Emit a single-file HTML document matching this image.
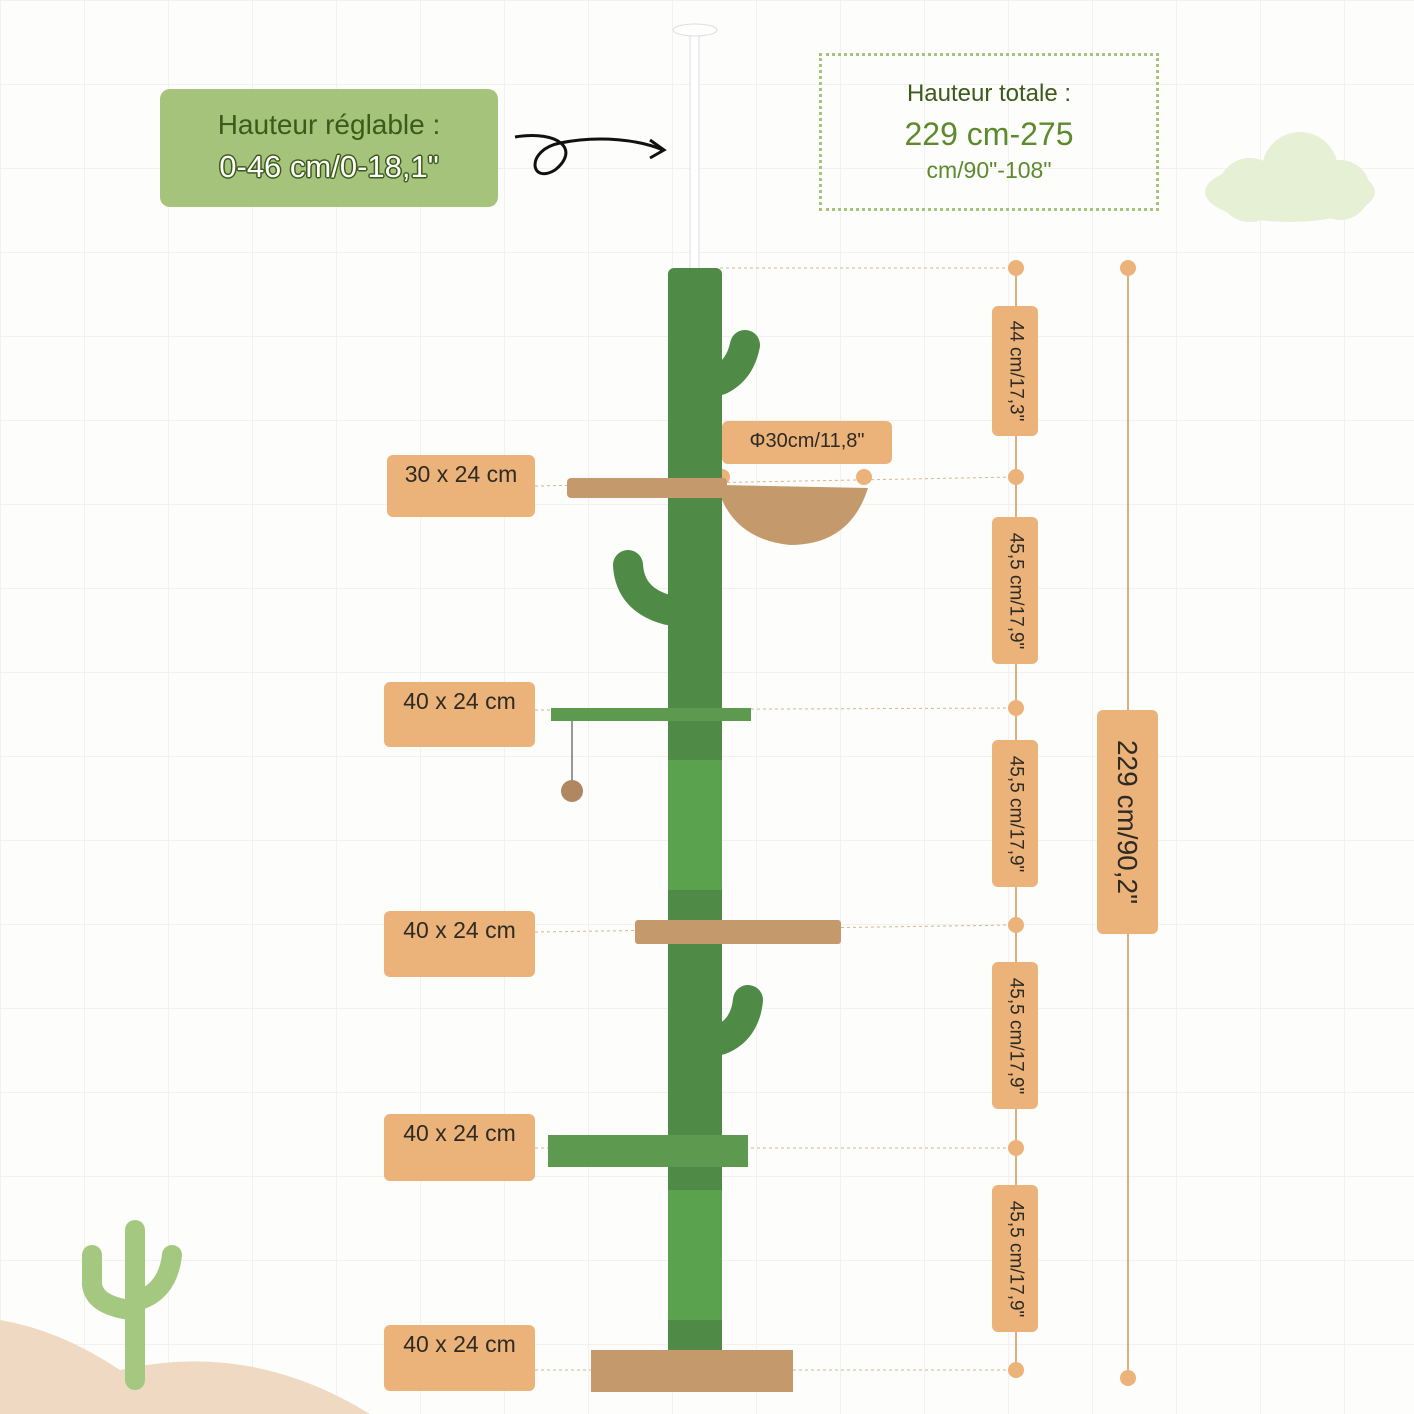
<!DOCTYPE html>
<html><head><meta charset="utf-8"><style>
body{margin:0;width:1414px;height:1414px;position:relative;overflow:hidden;background:#fdfdfc;font-family:"Liberation Sans",sans-serif;
background-image:linear-gradient(#f1f1ef 1px,transparent 1px),linear-gradient(90deg,#f1f1ef 1px,transparent 1px);background-size:84px 84px}
.a{position:absolute}
.lb{position:absolute;background:#ebb27a;border-radius:6px;color:#2e2a24;font-size:23px;text-align:center;box-sizing:border-box;padding-top:6px}
.v{position:absolute;background:#ebb27a;border-radius:6px;color:#2e2a24;display:flex;align-items:center;justify-content:center}
.v span{transform:rotate(90deg);white-space:nowrap;font-size:19px}
</style></head><body>
<div class="a" style="left:160px;top:89px;width:338px;height:118px;background:#a5c37a;border-radius:10px;text-align:center;color:#3c5a1a">
<div style="font-size:28px;margin-top:20px">Hauteur réglable :</div>
<div style="font-size:31px;margin-top:8px;color:#fff;text-shadow:-1.5px 0 #3c5a1a,1.5px 0 #3c5a1a,0 -1.5px #3c5a1a,0 1.5px #3c5a1a,1px 1px #3c5a1a,-1px -1px #3c5a1a,1px -1px #3c5a1a,-1px 1px #3c5a1a">0-46 cm/0-18,1"</div></div>
<div class="a" style="left:819px;top:53px;width:340px;height:158px;border:3px dotted #a5c37a;box-sizing:border-box;text-align:center;color:#3c5a1a">
<div style="font-size:24px;margin-top:24px">Hauteur totale :</div>
<div style="font-size:32px;margin-top:8px;color:#5e8a2e">229 cm-275</div>
<div style="font-size:23px;margin-top:4px;color:#5e8a2e">cm/90"-108"</div></div>
<svg class="a" style="left:0;top:0" width="1414" height="1414">
<path d="M515 137 C560 130 580 150 555 170 C530 185 525 150 560 143 C600 135 640 140 663 150" fill="none" stroke="#111" stroke-width="3"/>
<path d="M650 140 L664 150 L650 158" fill="none" stroke="#111" stroke-width="3"/>
<g fill="#e6f0d4"><ellipse cx="1290" cy="192" rx="85" ry="30"/><circle cx="1300" cy="170" r="38"/><circle cx="1250" cy="190" r="32"/><circle cx="1340" cy="190" r="30"/></g>
<path d="M0 1320 Q60 1330 120 1370 Q250 1340 370 1414 L0 1414Z" fill="#efd9c2"/>
<g stroke="#a5c880" stroke-width="20" stroke-linecap="round" fill="none"><path d="M135 1230 V1380"/><path d="M92 1255 V1285 Q95 1305 130 1310"/><path d="M172 1255 Q168 1290 140 1300"/></g>
<g fill="none" stroke="#d8b58f" stroke-width="1" stroke-dasharray="3 3">
<line x1="720" y1="268" x2="1015" y2="268"/><line x1="535" y1="486" x2="1015" y2="477"/><line x1="535" y1="710" x2="1015" y2="708"/><line x1="535" y1="932" x2="1015" y2="925"/><line x1="535" y1="1148" x2="1015" y2="1148"/><line x1="535" y1="1370" x2="1015" y2="1370"/></g>
<line x1="1016" y1="268" x2="1016" y2="1370" stroke="#dcae80" stroke-width="2"/>
<line x1="1128" y1="268" x2="1128" y2="1378" stroke="#dcae80" stroke-width="2"/>
<g fill="#ebb27a"><circle cx="1016" cy="268" r="8"/><circle cx="1016" cy="477" r="8"/><circle cx="1016" cy="708" r="8"/><circle cx="1016" cy="925" r="8"/><circle cx="1016" cy="1148" r="8"/><circle cx="1016" cy="1370" r="8"/><circle cx="1128" cy="268" r="8"/><circle cx="1128" cy="1378" r="8"/><circle cx="722" cy="477" r="8"/><circle cx="864" cy="477" r="8"/></g>
<rect x="690" y="30" width="9" height="240" fill="#fff" stroke="#ddd"/>
<ellipse cx="695" cy="30" rx="22" ry="6" fill="#fff" stroke="#ddd"/>
<rect x="668" y="268" width="54" height="1100" rx="6" fill="#4f8a46"/>
<rect x="668" y="760" width="54" height="130" fill="#5aa24d"/>
<rect x="668" y="1190" width="54" height="130" fill="#5aa24d"/>
<path d="M720 380 Q740 370 745 345" stroke="#4f8a46" stroke-width="30" fill="none" stroke-linecap="round"/>
<path d="M668 610 Q630 600 628 565" stroke="#4f8a46" stroke-width="30" fill="none" stroke-linecap="round"/>
<path d="M720 1040 Q745 1030 748 1000" stroke="#4f8a46" stroke-width="30" fill="none" stroke-linecap="round"/>
<path d="M722 485 L868 488 Q850 545 790 545 Q740 540 722 500Z" fill="#c49a6c"/>
<rect x="567" y="478" width="160" height="20" rx="4" fill="#c49a6c"/>
<rect x="551" y="708" width="200" height="13" fill="#5d9a4f"/>
<line x1="572" y1="721" x2="572" y2="785" stroke="#333"/><circle cx="572" cy="791" r="11" fill="#b08760"/>
<rect x="635" y="920" width="206" height="24" rx="3" fill="#c49a6c"/>
<rect x="548" y="1135" width="200" height="32" fill="#5d9a4f"/>
<rect x="591" y="1350" width="202" height="42" fill="#c49a6c"/>
</svg>
<div class="lb" style="left:387px;top:455px;width:148px;height:62px">30 x 24 cm</div>
<div class="lb" style="left:384px;top:682px;width:151px;height:65px">40 x 24 cm</div>
<div class="lb" style="left:384px;top:911px;width:151px;height:66px">40 x 24 cm</div>
<div class="lb" style="left:384px;top:1114px;width:151px;height:67px">40 x 24 cm</div>
<div class="lb" style="left:384px;top:1325px;width:151px;height:66px">40 x 24 cm</div>
<div class="lb" style="left:722px;top:421px;width:170px;height:43px;font-size:20px;padding-top:9px">Φ30cm/11,8"</div>
<div class="v" style="left:992px;top:306px;width:46px;height:130px"><span>44 cm/17,3"</span></div>
<div class="v" style="left:992px;top:517px;width:46px;height:147px"><span>45,5 cm/17,9"</span></div>
<div class="v" style="left:992px;top:740px;width:46px;height:147px"><span>45,5 cm/17,9"</span></div>
<div class="v" style="left:992px;top:962px;width:46px;height:147px"><span>45,5 cm/17,9"</span></div>
<div class="v" style="left:992px;top:1185px;width:46px;height:147px"><span>45,5 cm/17,9"</span></div>
<div class="v" style="left:1097px;top:710px;width:61px;height:224px"><span style="font-size:28px">229 cm/90,2"</span></div>
</body></html>
